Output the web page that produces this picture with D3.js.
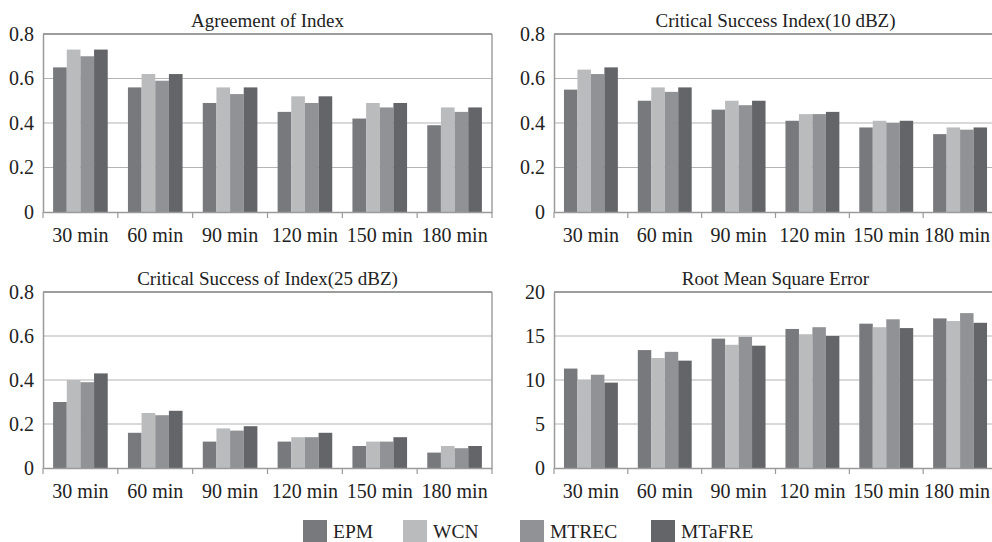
<!DOCTYPE html>
<html>
<head>
<meta charset="utf-8">
<script src="https://cdn.jsdelivr.net/npm/d3@7"></script>
<style>
  body { margin: 0; background: #fff; }
  svg { display: block; }
</style>
</head>
<body>
<svg id="chart" width="992" height="542"></svg>
<script>
/* Data
======================================================================= */
var categories = ['30 min', '60 min', '90 min', '120 min', '150 min', '180 min'],
    seriesNames = ['EPM', 'WCN', 'MTREC', 'MTaFRE'],
    seriesColors = ['#78797d', '#babbbd', '#919295', '#646568'];

// Agreement of Index, one array per method
var aiEPM    = [0.65, 0.56, 0.49, 0.45, 0.42, 0.39],
    aiWCN    = [0.73, 0.62, 0.56, 0.52, 0.49, 0.47],
    aiMTREC  = [0.70, 0.59, 0.53, 0.49, 0.47, 0.45],
    aiMTaFRE = [0.73, 0.62, 0.56, 0.52, 0.49, 0.47];

// Critical Success Index (10 dBZ)
var csi10EPM    = [0.55, 0.50, 0.46, 0.41, 0.38, 0.35],
    csi10WCN    = [0.64, 0.56, 0.50, 0.44, 0.41, 0.38],
    csi10MTREC  = [0.62, 0.54, 0.48, 0.44, 0.40, 0.37],
    csi10MTaFRE = [0.65, 0.56, 0.50, 0.45, 0.41, 0.38];

// Critical Success of Index (25 dBZ)
var csi25EPM    = [0.30, 0.16, 0.12, 0.12, 0.10, 0.07],
    csi25WCN    = [0.40, 0.25, 0.18, 0.14, 0.12, 0.10],
    csi25MTREC  = [0.39, 0.24, 0.17, 0.14, 0.12, 0.09],
    csi25MTaFRE = [0.43, 0.26, 0.19, 0.16, 0.14, 0.10];

// Root Mean Square Error
var rmseEPM    = [11.3, 13.4, 14.7, 15.8, 16.4, 17.0],
    rmseWCN    = [10.0, 12.5, 14.0, 15.2, 16.0, 16.7],
    rmseMTREC  = [10.6, 13.2, 14.9, 16.0, 16.9, 17.6],
    rmseMTaFRE = [9.7, 12.2, 13.9, 15.0, 15.9, 16.5];

var indexTicks = [0, 0.2, 0.4, 0.6, 0.8],
    rmseTicks = [0, 5, 10, 15, 20];

/* Layout
======================================================================= */
var svg = d3.select('#chart'),
    serif = '"Liberation Serif", "DejaVu Serif", serif',
    textColor = '#222',
    maxRight = 990; // labels are nudged to stay inside the picture

// Zero shows as "0", the rest with one decimal
function indexFormat(d) { return d === 0 ? '0' : d3.format('.1f')(d); }

var panels = [
  { title: 'Agreement of Index', series: [aiEPM, aiWCN, aiMTREC, aiMTaFRE],
    ticks: indexTicks, fmt: indexFormat, left: 43, right: 492, top: 34, bottom: 212 },
  { title: 'Critical Success Index(10 dBZ)', series: [csi10EPM, csi10WCN, csi10MTREC, csi10MTaFRE],
    ticks: indexTicks, fmt: indexFormat, left: 554, right: 997, top: 34, bottom: 212 },
  { title: 'Critical Success of Index(25 dBZ)', series: [csi25EPM, csi25WCN, csi25MTREC, csi25MTaFRE],
    ticks: indexTicks, fmt: indexFormat, left: 43, right: 492, top: 292, bottom: 468 },
  { title: 'Root Mean Square Error', series: [rmseEPM, rmseWCN, rmseMTREC, rmseMTaFRE],
    ticks: rmseTicks, fmt: d3.format('d'), left: 554, right: 997, top: 292, bottom: 468 }
];

// Give axis text the serif face used in the figure
function styleAxis(axisG) {
  axisG.attr('font-family', serif).attr('font-size', 20);
  axisG.selectAll('text')
    .style('font-family', serif).style('font-size', '20px').attr('fill', textColor);
  axisG.select('.domain').attr('stroke', '#9a9a9a').attr('stroke-width', 1.5);
}

/* Draw each panel
======================================================================= */
panels.forEach(function(p) {
  var w = p.right - p.left,
      h = p.bottom - p.top;

  var x0 = d3.scaleBand().domain(categories).range([0, w]).padding(0),
      x1 = d3.scaleBand().domain(seriesNames).range([0, x0.bandwidth()])
             .paddingInner(0).paddingOuter(0.74),
      y = d3.scaleLinear().domain([p.ticks[0], p.ticks[p.ticks.length - 1]]).range([h, 0]);

  var g = svg.append('g').attr('transform', 'translate(' + p.left + ',' + p.top + ')');

  // Horizontal gridlines
  g.selectAll('.grid').data(p.ticks.slice(1, -1)).enter().append('line')
    .attr('x1', 0).attr('x2', w)
    .attr('y1', function(d) { return y(d); }).attr('y2', function(d) { return y(d); })
    .attr('stroke', '#b4b4b4').attr('stroke-width', 1.2);

  // Bars
  var groups = g.selectAll('.cat').data(categories).enter().append('g')
    .attr('transform', function(c) { return 'translate(' + x0(c) + ',0)'; });

  groups.selectAll('rect').data(function(c, i) {
      return seriesNames.map(function(s, j) { return { s: s, j: j, v: p.series[j][i] }; });
    }).enter().append('rect')
    .attr('x', function(d) { return x1(d.s); })
    .attr('width', x1.bandwidth())
    .attr('y', function(d) { return y(d.v); })
    .attr('height', function(d) { return h - y(d.v); })
    .attr('fill', function(d) { return seriesColors[d.j]; });

  // Frame: top and right borders
  g.append('line').attr('x1', 0).attr('x2', w).attr('y1', 0).attr('y2', 0)
    .attr('stroke', '#7c7c7c').attr('stroke-width', 1.5);
  g.append('line').attr('x1', w).attr('x2', w).attr('y1', 0).attr('y2', h)
    .attr('stroke', '#8a8a8a').attr('stroke-width', 1.2);

  // Y axis
  var yAxis = g.append('g').call(d3.axisLeft(y).tickValues(p.ticks).tickFormat(p.fmt).tickSize(0).tickPadding(9));
  styleAxis(yAxis);

  // X axis with boundary tick marks
  var xAxis = g.append('g').attr('transform', 'translate(0,' + h + ')')
    .call(d3.axisBottom(x0).tickSize(0).tickPadding(16));
  styleAxis(xAxis);
  xAxis.selectAll('.tick text').attr('dy', '0.71em');

  // Nudge labels that would run past the picture edge
  xAxis.selectAll('.tick').each(function(c) {
    var t = d3.select(this).select('text'),
        half = t.node().getComputedTextLength() / 2,
        over = p.left + x0(c) + x0.bandwidth() / 2 + half - maxRight;
    if (over > 0) t.attr('x', -over);
  });

  var bounds = categories.map(function(c) { return x0(c); }).concat([w]);
  xAxis.selectAll('.bound').data(bounds).enter().append('line')
    .attr('x1', function(d) { return d; }).attr('x2', function(d) { return d; })
    .attr('y1', 0).attr('y2', 6)
    .attr('stroke', '#9a9a9a').attr('stroke-width', 1.2);

  // Title
  svg.append('text')
    .attr('x', p.left + w / 2).attr('y', p.top - 7)
    .attr('text-anchor', 'middle')
    .style('font-family', serif).style('font-size', '19px').attr('fill', textColor)
    .text(p.title);
});

/* Legend
======================================================================= */
var legendX = [303, 403, 520, 651];

var legend = svg.append('g');
var items = legend.selectAll('g').data(seriesNames).enter().append('g')
  .attr('transform', function(d, i) { return 'translate(' + legendX[i] + ',520)'; });

items.append('rect').attr('width', 24).attr('height', 22)
  .attr('fill', function(d, i) { return seriesColors[i]; });

items.append('text').attr('x', 30).attr('y', 18)
  .style('font-family', serif).style('font-size', '19.5px').attr('fill', textColor)
  .text(function(d) { return d; });
</script>
</body>
</html>
